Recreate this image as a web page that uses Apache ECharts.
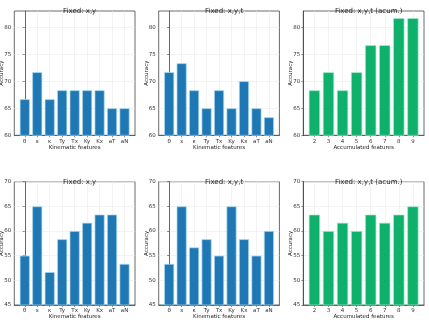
<!DOCTYPE html>
<html><head><meta charset="utf-8">
<script src="https://cdn.jsdelivr.net/npm/echarts@6/dist/echarts.min.js"></script>
<style>html,body{margin:0;padding:0;background:#fff}#c{width:429px;height:320px}</style>
</head><body><div id="c"></div>
<script>
// ---- data ----
const kinCats = ["θ", "s", "κ", "Ty", "Tx", "Ky", "Kx", "aT", "aN"];
const accCats = [2, 3, 4, 5, 6, 7, 8, 9];
const titles = ["Fixed: x,y", "Fixed: x,y,t", "Fixed: x,y,t (acum.)", "Fixed: x,y", "Fixed: x,y,t", "Fixed: x,y,t (acum.)"];
const topXY    = [66.67, 71.67, 66.67, 68.33, 68.33, 68.33, 68.33, 65.0, 65.0];
const topXYT   = [71.67, 73.33, 68.33, 65.0, 68.33, 65.0, 70.0, 65.0, 63.33];
const topAcum  = [68.33, 71.67, 68.33, 71.67, 76.67, 76.67, 81.67, 81.67];
const botXY    = [55.0, 65.0, 51.67, 58.33, 60.0, 61.67, 63.33, 63.33, 53.33];
const botXYT   = [53.33, 65.0, 56.67, 58.33, 55.0, 65.0, 58.33, 55.0, 60.0];
const botAcum  = [63.33, 60.0, 61.67, 60.0, 63.33, 61.67, 63.33, 65.0];
const topTicks = [60, 65, 70, 75, 80];
const botTicks = [45, 50, 55, 60, 65, 70];

// ---- layout ----
const F = 'DejaVu Sans';
const lefts = [14.3, 158.7, 303.3];
const W = 120.7;
const rows = [{top: 11, bottom: 135.3, min: 60, max: 83, ticks: topTicks},
              {top: 181.7, bottom: 305, min: 45, max: 70, ticks: botTicks}];
const panels = [
  {r: 0, c: 0, vals: topXY, acc: false},
  {r: 0, c: 1, vals: topXYT, acc: false},
  {r: 0, c: 2, vals: topAcum, acc: true},
  {r: 1, c: 0, vals: botXY, acc: false},
  {r: 1, c: 1, vals: botXYT, acc: false},
  {r: 1, c: 2, vals: botAcum, acc: true}
];
const BLUE = '#1f77b4', GREEN = '#0fb06b';
const grid = [], xAxis = [], yAxis = [], series = [], title = [];
panels.forEach((p, i) => {
  const row = rows[p.r];
  grid.push({left: lefts[p.c], top: row.top, width: W, height: row.bottom - row.top,
    show: true, borderColor: '#444', borderWidth: 0.8, containLabel: false, outerBoundsMode: 'none'});
  let xs, xmin, xmax, fmt;
  if (p.acc) {
    xs = accCats.slice();
    xmin = accCats[0] - 0.4 - 0.39; xmax = accCats[accCats.length - 1] + 0.4 + 0.39;
    fmt = v => String(Math.round(v));
  } else {
    xs = kinCats.map((_, k) => k);
    xmin = -0.84; xmax = kinCats.length - 1 + 0.84;
    fmt = v => kinCats[Math.round(v)];
  }
  xAxis.push({type: 'value', gridIndex: i, min: xmin, max: xmax,
    name: p.acc ? 'Accumulated features' : 'Kinematic features',
    nameLocation: 'middle', nameGap: 9, nameMoveOverlap: false,
    nameTextStyle: {fontFamily: F, fontSize: 5.5, color: '#222'},
    axisLine: {show: true, lineStyle: {color: '#444', width: 0.8}},
    axisTick: {show: true, length: 2, customValues: xs, lineStyle: {color: '#444', width: 0.6}},
    axisLabel: {customValues: xs, formatter: fmt, fontFamily: F, fontSize: 5.5, color: '#333', margin: 3},
    splitLine: {show: true, lineStyle: {color: '#ebebeb', width: 0.6}}
  });
  yAxis.push({type: 'value', gridIndex: i, min: row.min, max: row.max,
    name: 'Accuracy', nameLocation: 'middle', nameGap: 9.3, nameMoveOverlap: false,
    nameTextStyle: {fontFamily: F, fontSize: 5.5, color: '#222'},
    axisLine: {show: true, lineStyle: {color: '#444', width: 0.8}},
    axisTick: {show: true, length: 2, customValues: row.ticks, lineStyle: {color: '#444', width: 0.6}},
    axisLabel: {customValues: row.ticks, formatter: v => String(Math.round(v)), fontFamily: F, fontSize: 5.5, color: '#333', margin: 3},
    splitLine: {show: true, lineStyle: {color: '#ebebeb', width: 0.6}}
  });
  const data = p.vals.map((v, k) => [xs[k], v]);
  series.push({type: 'bar', xAxisIndex: i, yAxisIndex: i, data: data, barWidth: '80%',
    itemStyle: {color: p.acc ? GREEN : BLUE, borderColor: p.acc ? '#a8ecc8' : '#a6d8f2', borderWidth: 0.7},
    silent: true, animation: false});
  title.push({text: titles[i], left: lefts[p.c] + W / 2, top: row.top - 8.5, textAlign: 'center',
    textStyle: {fontFamily: F, fontSize: 7, fontWeight: 'normal', color: '#222'}});
});
const chart = echarts.init(document.getElementById('c'), null, {renderer: 'canvas'});
chart.setOption({backgroundColor: '#fff', animation: false, title, grid, xAxis, yAxis, series});
</script></body></html>
